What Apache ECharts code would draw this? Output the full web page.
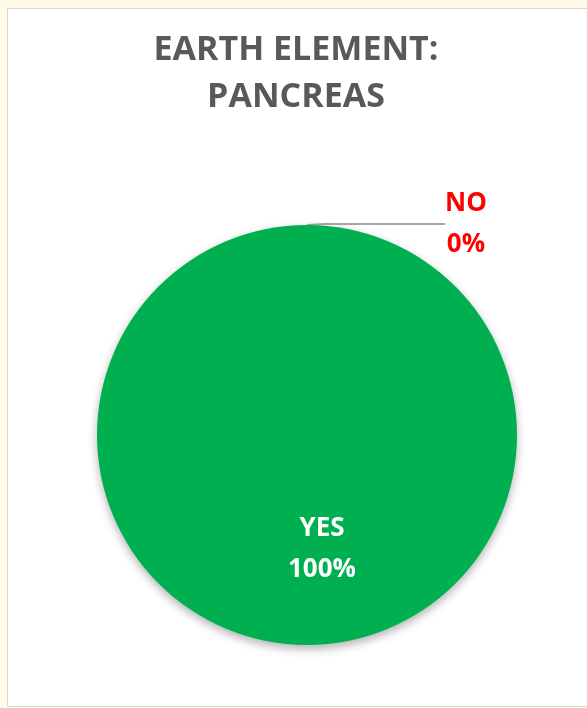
<!DOCTYPE html>
<html>
<head>
<meta charset="utf-8">
<script src="https://cdn.jsdelivr.net/npm/echarts@6/dist/echarts.min.js"></script>
<style>
  html, body { margin: 0; padding: 0; background: #fffbe9; }
  #chart {
    position: absolute;
    left: 7px;
    top: 8px;
    width: 584px;
    height: 697px;
    border: 1px solid #d9d9d9;
    background: #ffffff;
  }
</style>
</head>
<body>
<div id="chart"></div>
<script>
// data
const categories = ['YES', 'NO'];
const values = [100, 0];
const sliceColors = ['#00b050', '#ff0000'];
const titleText = 'EARTH ELEMENT:\nPANCREAS';

const chart = echarts.init(document.getElementById('chart'));

chart.setOption({
  animation: false,
  title: {
    text: titleText,
    left: 283,
    textAlign: 'center',
    top: 13,
    textStyle: {
      fontFamily: 'Open Sans',
      fontWeight: 'bold',
      fontSize: 34,
      lineHeight: 47,
      color: '#595959'
    }
  },
  series: [
    {
      type: 'pie',
      center: [299, 426],
      radius: 210,
      startAngle: 90,
      clockwise: true,
      avoidLabelOverlap: false,
      data: categories.map((name, i) => ({
        name: name,
        value: values[i],
        itemStyle: { color: sliceColors[0] },
        label: i === 0 ? {
          position: 'inside',
          color: '#ffffff',
          offset: [15, 6]
        } : {
          position: 'outside',
          color: '#ff0000'
        }
      })),
      itemStyle: {
        shadowBlur: 10,
        shadowColor: 'rgba(0,0,0,0.3)',
        shadowOffsetY: 4
      },
      label: {
        formatter: function (p) { return p.name + '\n' + p.percent.toFixed(0) + '%'; },
        fontFamily: 'Open Sans',
        fontWeight: 'bold',
        fontSize: 26,
        lineHeight: 41
      },
      labelLine: {
        show: true,
        length: 0,
        length2: 120,
        lineStyle: { color: '#a6a6a6', width: 2 }
      },
      labelLayout: function (params) {
        if (params.dataIndex === 1) {
          return { x: 458, y: 215, align: 'center', verticalAlign: 'middle' };
        }
        return {};
      },
      emphasis: { disabled: true }
    }
  ]
});

window.onresize = function () {
  chart.resize();
};
</script>
</body>
</html>
